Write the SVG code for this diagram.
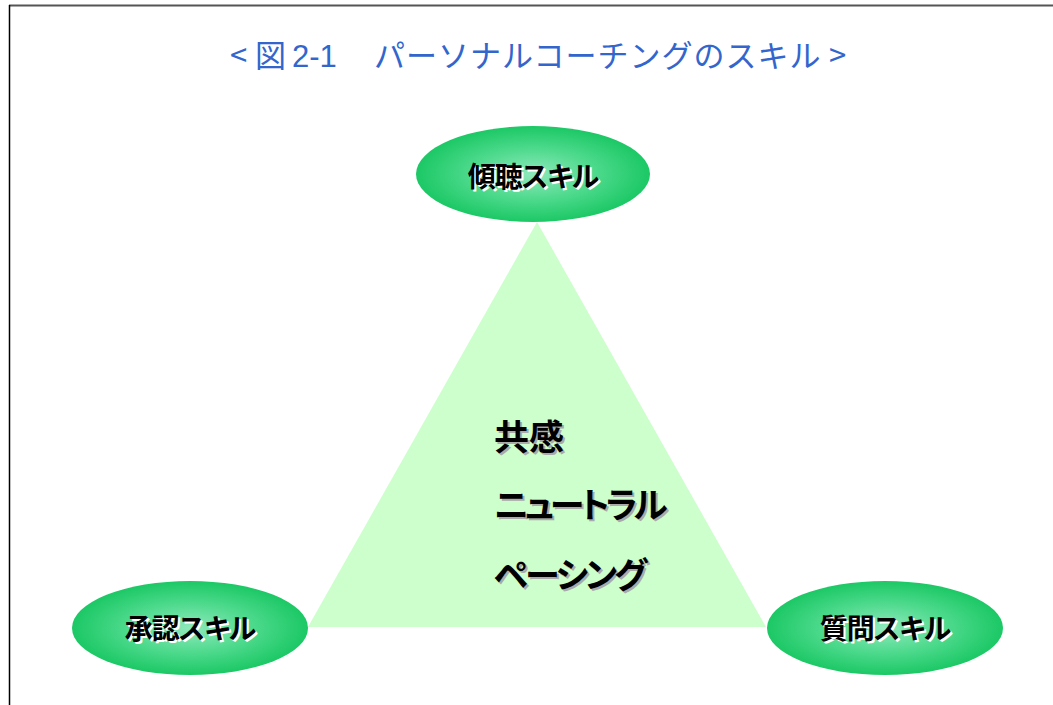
<svg xmlns="http://www.w3.org/2000/svg" width="1053" height="705" viewBox="0 0 1053 705">
<defs>
<radialGradient id="g" cx="50%" cy="50%" r="50%">
<stop offset="0" stop-color="#8ee9bb"/>
<stop offset="0.55" stop-color="#4bd98b"/>
<stop offset="1" stop-color="#1cc865"/>
</radialGradient>
</defs>
<style>
.t{font-family:"Noto Sans CJK JP","Liberation Sans",sans-serif;}
.title{fill:#3366cc;font-size:31px;}
.lab{font-weight:bold;font-size:28px;font-feature-settings:"palt";letter-spacing:-1px;}
.c{font-weight:bold;font-size:35px;font-feature-settings:"palt";}
.ell{fill:url(#g);}
</style>
<rect width="1053" height="705" fill="#fff"/>
<line x1="9" y1="5.5" x2="1053" y2="5.5" stroke="#555" stroke-width="2"/>
<line x1="9.5" y1="5" x2="9.5" y2="705" stroke="#000" stroke-width="1.5"/>
<g id="title" class="t title">
<text x="230" y="67">&lt;</text>
<text x="255" y="67">図</text>
<text x="292" y="67" font-family="Liberation Sans">2-1</text>
<text x="374" y="67" style="letter-spacing:1px">パーソナルコーチングのスキル</text>
<text x="829" y="67">&gt;</text>
</g>
<g id="triangle">
<polygon points="537,222 308,627 766,627" fill="#ccffcc"/>
<g class="t c">
<text x="496" y="452" fill="#aaa">共感</text>
<text x="494" y="450">共感</text>
<text x="496" y="520" fill="#aaa" style="letter-spacing:-4px">ニュートラル</text>
<text x="494" y="518" style="letter-spacing:-4px">ニュートラル</text>
<text x="496" y="590" fill="#aaa" style="letter-spacing:-3px">ペーシング</text>
<text x="494" y="588" style="letter-spacing:-3px">ペーシング</text>
</g>
</g>
<g id="node-listen">
<ellipse class="ell" cx="533" cy="174" rx="117" ry="48"/>
<text class="t lab" x="535" y="189" text-anchor="middle" fill="#fff">傾聴スキル</text>
<text class="t lab" x="533" y="187" text-anchor="middle">傾聴スキル</text>
</g>
<g id="node-approve">
<ellipse class="ell" cx="190" cy="628" rx="118" ry="47"/>
<text class="t lab" x="192" y="641" text-anchor="middle" fill="#fff">承認スキル</text>
<text class="t lab" x="190" y="639" text-anchor="middle">承認スキル</text>
</g>
<g id="node-question">
<ellipse class="ell" cx="885" cy="628" rx="118" ry="47"/>
<text class="t lab" x="887" y="641" text-anchor="middle" fill="#fff">質問スキル</text>
<text class="t lab" x="885" y="639" text-anchor="middle">質問スキル</text>
</g>
<g id="connectors"/>
</svg>
